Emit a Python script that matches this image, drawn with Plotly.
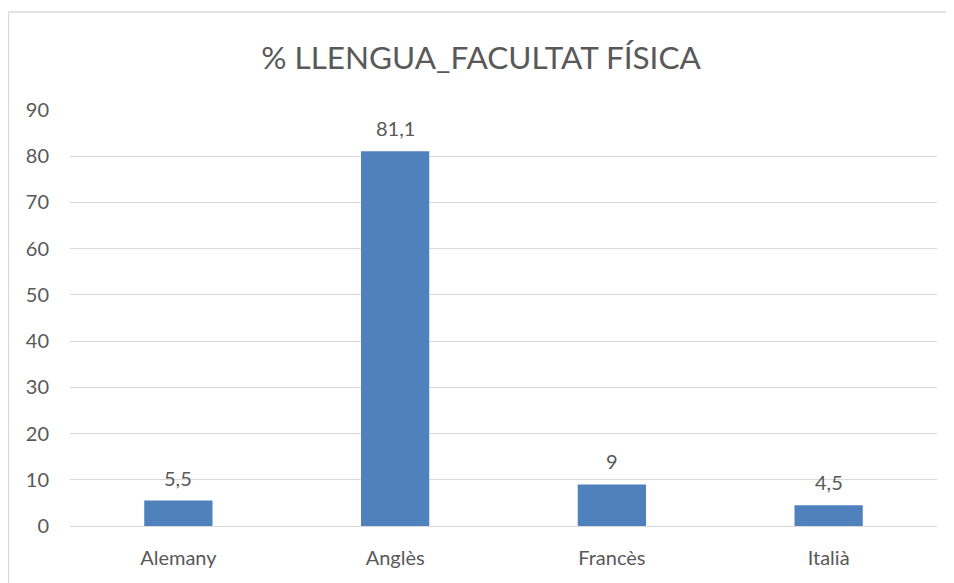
import plotly.graph_objects as go

categories = ["Alemany", "Anglès", "Francès", "Italià"]
values = [5.5, 81.1, 9, 4.5]
y_ticks = [0, 10, 20, 30, 40, 50, 60, 70, 80, 90]
title_text = "% LLENGUA_FACULTAT FÍSICA"

def fmt(v):
    return ("%g" % v).replace(".", ",")

labels = [fmt(v) for v in values]

# page body has an 8px margin, so figure coords = screen coords - 8
W, H = 946, 575
L, R, T, B = 62, 17, 102, 57
pw, ph = W - L - R, H - T - B

font_family = "Lato, 'Open Sans', sans-serif"
grey = "#595959"
border = "#D9D9D9"

fig = go.Figure()
fig.add_trace(go.Bar(
    x=categories, y=values,
    marker=dict(color="#4F81BD", line=dict(width=0)),
    hoverinfo="x+y",
))

annotations = [
    dict(x=c, y=v, xref="x", yref="y", text=t, showarrow=False,
         yanchor="middle", xanchor="center", yshift=23,
         font=dict(size=20, color=grey, family=font_family))
    for c, v, t in zip(categories, values, labels)
]

bx0 = (0.5 - L) / pw
by1 = (H - B - 4) / ph
shapes = [
    dict(type="line", xref="paper", yref="paper", x0=bx0, x1=bx0,
         y0=-(B + 20) / ph, y1=by1, line=dict(color=border, width=1.3)),
    dict(type="line", xref="paper", yref="paper", x0=bx0, x1=(W + 20 - L) / pw,
         y0=by1, y1=by1, line=dict(color=border, width=1.3)),
]

fig.update_layout(
    width=W, height=H,
    margin=dict(l=L, r=R, t=T, b=B),
    paper_bgcolor="white", plot_bgcolor="white",
    bargap=0.685,
    showlegend=False,
    font=dict(family=font_family, color=grey, size=20),
    title=dict(text=title_text, x=0.5, xanchor="center",
               y=1 - 50 / H, yanchor="middle",
               font=dict(size=31.5, color=grey, family=font_family)),
    xaxis=dict(showgrid=False, showline=False, zeroline=False,
               ticks="", ticklabelstandoff=18, automargin=False,
               tickfont=dict(size=20, color=grey)),
    yaxis=dict(range=[0, 90], tickvals=y_ticks, showgrid=True,
               gridcolor=border, gridwidth=1, zeroline=True,
               zerolinecolor=border, zerolinewidth=1,
               showline=False, ticks="", ticklabelstandoff=20, automargin=False,
               tickfont=dict(size=20, color=grey)),
    annotations=annotations,
    shapes=shapes,
)

fig.write_html("out.html")
